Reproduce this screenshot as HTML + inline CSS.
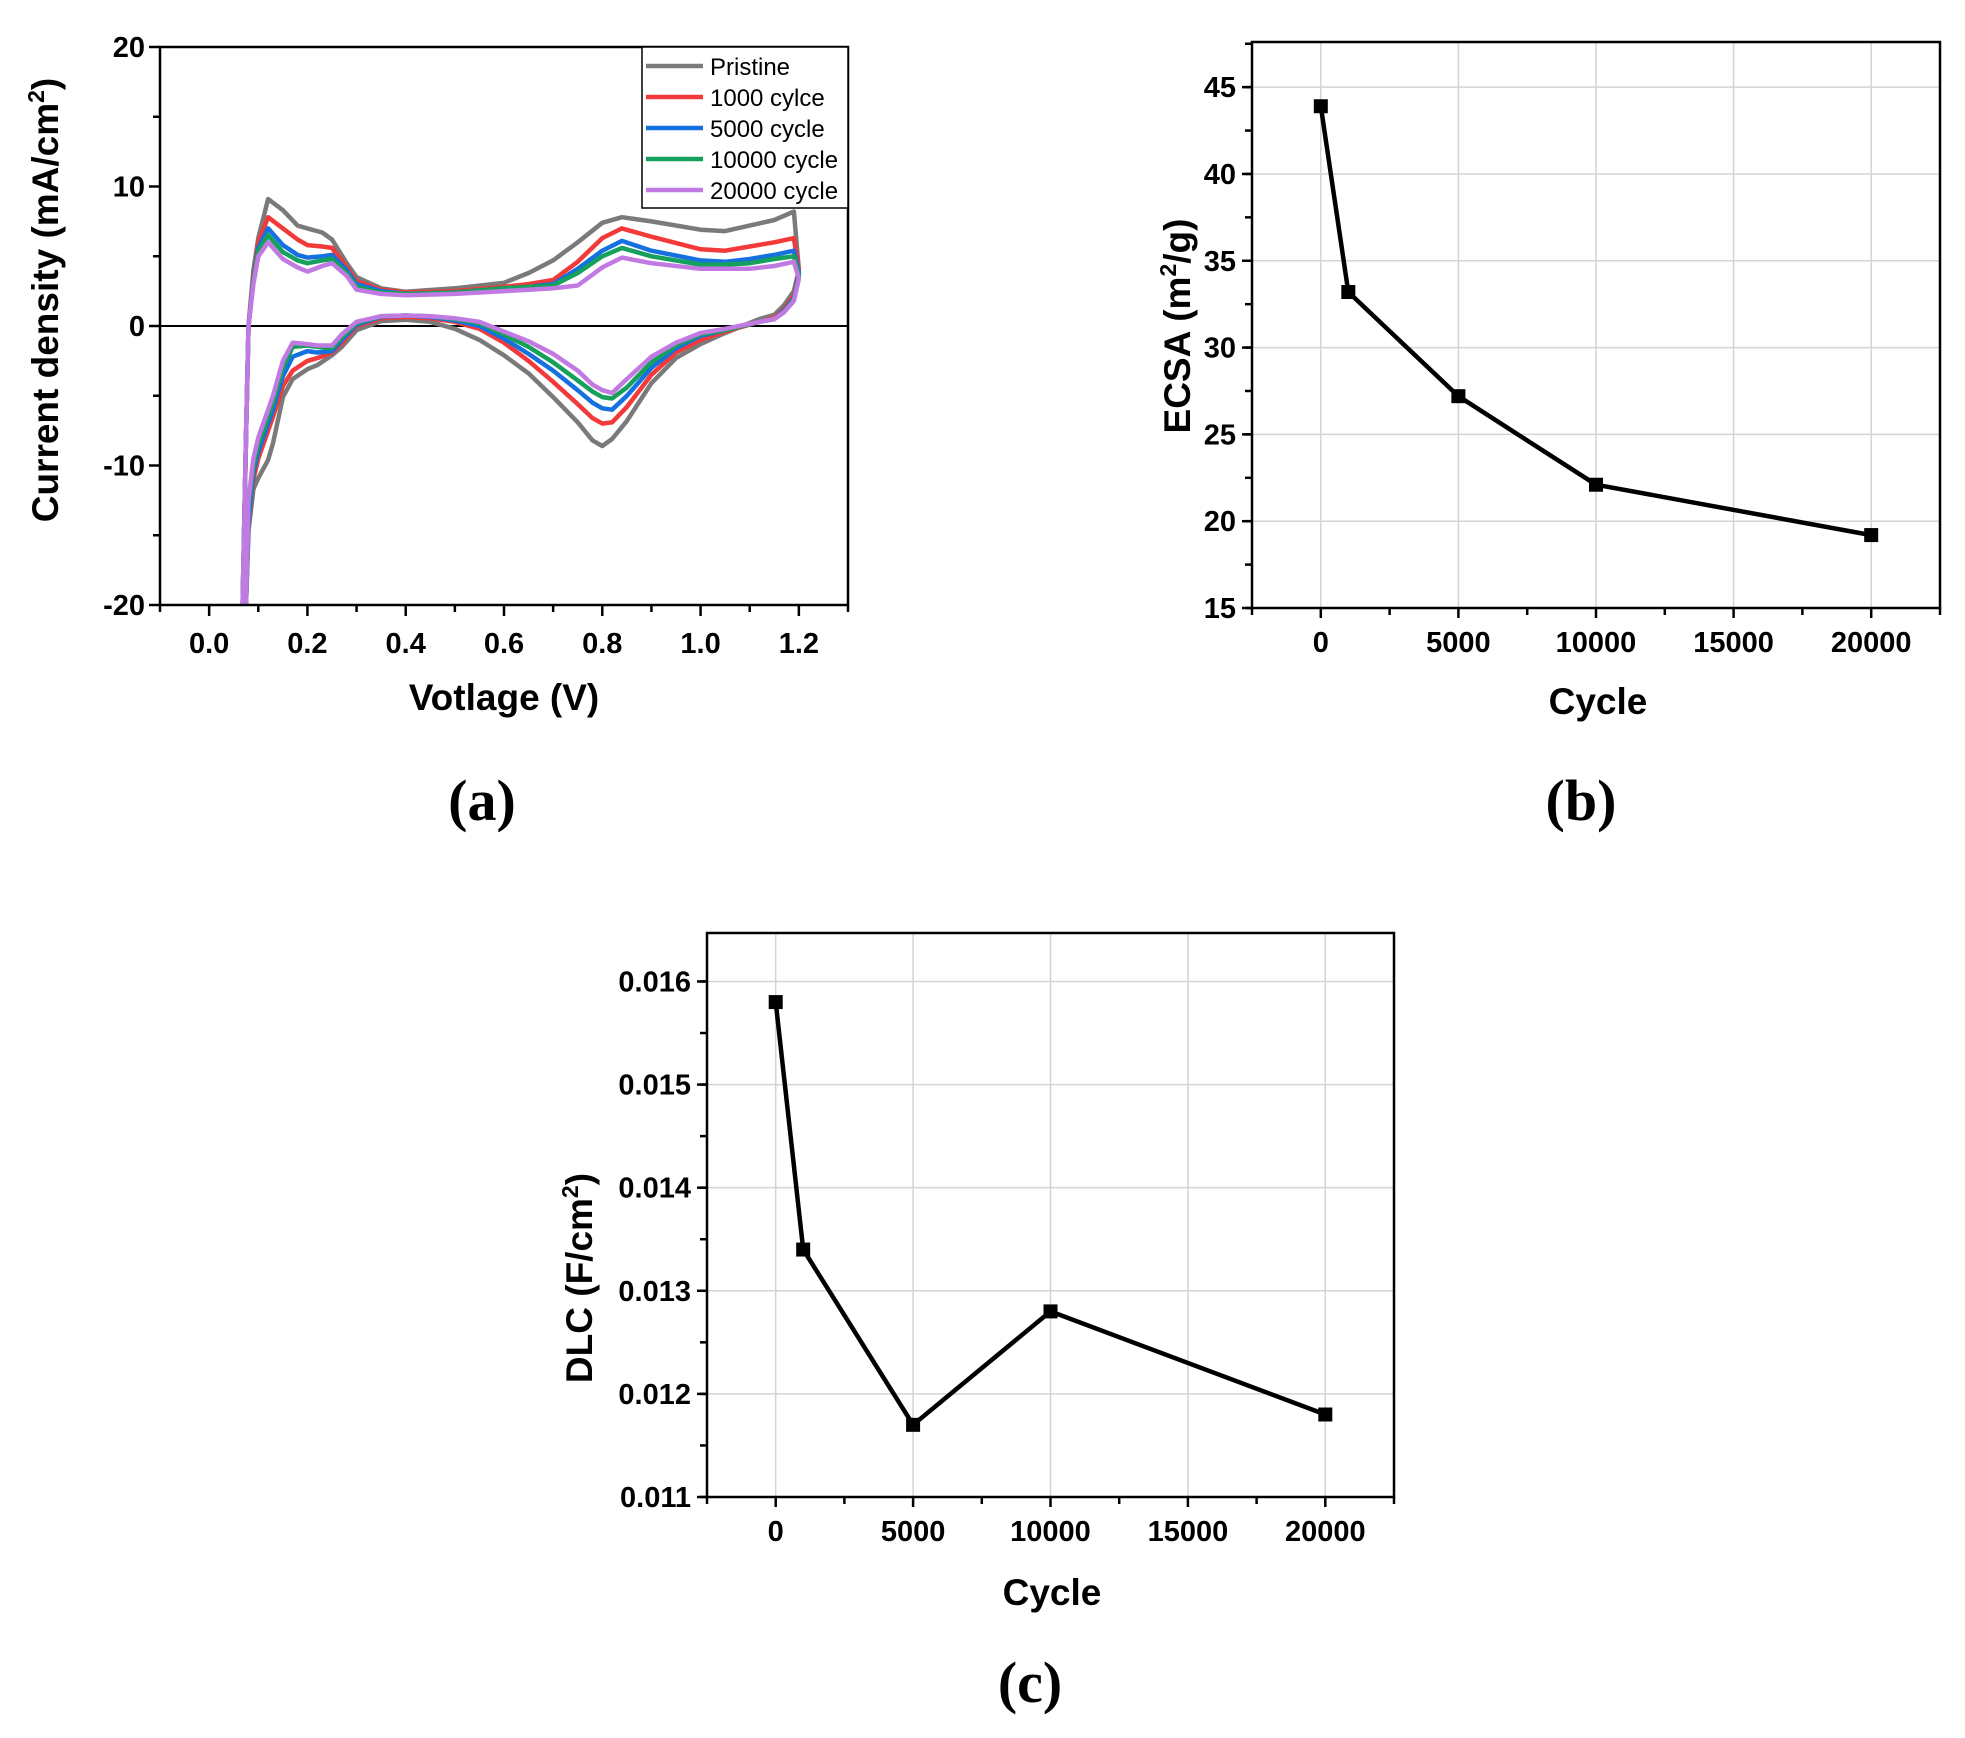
<!DOCTYPE html>
<html><head><meta charset="utf-8"><style>
html,body{margin:0;padding:0;background:#fff;}
svg{display:block;}
text{font-family:"Liberation Sans",Arial,sans-serif;}
.tk{font-size:29px;font-weight:bold;fill:#000;}
.tt{font-size:37px;font-weight:bold;fill:#000;}
.lg{font-size:24px;fill:#000;}
.pl{font-family:"Liberation Serif",serif;font-size:58px;font-weight:bold;}
</style></head><body>
<svg id="fig" width="1965" height="1738" viewBox="0 0 1965 1738" xmlns="http://www.w3.org/2000/svg">
<defs>
<clipPath id="clipA"><rect x="160" y="47" width="688" height="558"/></clipPath>
</defs>
<g id="chartA"></g>
<g id="chartB"></g>
<g id="chartC"></g>
<text class="pl" x="482" y="820" text-anchor="middle">(a)</text>
<text class="pl" x="1581" y="820" text-anchor="middle">(b)</text>
<text class="pl" x="1030" y="1702" text-anchor="middle">(c)</text>
</svg>
<script>
// ---- Chart (a) data ----
const upperV = [0.068,0.075,0.08,0.09,0.1,0.12,0.15,0.18,0.2,0.23,0.25,0.28,0.3,0.35,0.4,0.5,0.6,0.65,0.7,0.75,0.8,0.84,0.9,1.0,1.05,1.1,1.15,1.19,1.2];
const lowerV = [1.2,1.19,1.17,1.15,1.12,1.05,1.0,0.95,0.9,0.85,0.82,0.8,0.78,0.75,0.7,0.65,0.6,0.55,0.5,0.45,0.4,0.35,0.3,0.27,0.25,0.22,0.2,0.17,0.15,0.13,0.12,0.1,0.09,0.08,0.075];
const seriesNames = ["Pristine","1000 cylce","5000 cycle","10000 cycle","20000 cycle"];
const pristineUp = [-20,-8,0,4,6.3,9.1,8.3,7.2,7.0,6.7,6.2,4.5,3.5,2.7,2.45,2.7,3.1,3.8,4.7,6.0,7.4,7.8,7.5,6.9,6.8,7.2,7.6,8.2,4.0];
const c1000Up = [-20,-8,0,3.5,6.0,7.8,7.0,6.2,5.8,5.7,5.6,4.2,3.2,2.6,2.4,2.5,2.8,3.0,3.3,4.6,6.3,7.0,6.4,5.5,5.4,5.7,6.0,6.3,4.0];
const c5000Up = [-20,-8,0,3.3,5.6,7.0,5.8,5.1,4.9,5.0,5.1,4.0,3.0,2.5,2.3,2.4,2.7,2.8,3.0,4.1,5.4,6.1,5.4,4.7,4.6,4.8,5.1,5.4,3.8];
const c10000Up = [-20,-8,0,3.2,5.4,6.5,5.3,4.7,4.5,4.7,4.8,3.8,2.8,2.4,2.3,2.4,2.7,2.8,2.9,3.8,5.0,5.6,5.0,4.4,4.4,4.5,4.8,5.0,3.6];
const c20000Up = [-20,-8,0,3.0,5.0,6.0,4.8,4.2,3.9,4.3,4.5,3.6,2.6,2.3,2.2,2.3,2.5,2.6,2.7,2.9,4.2,4.9,4.5,4.1,4.1,4.1,4.3,4.6,3.4];
const pristineLow = [4.0,2.5,1.5,0.8,0.5,-0.5,-1.3,-2.3,-4.1,-6.8,-8.1,-8.6,-8.2,-6.9,-5.1,-3.4,-2.1,-1.0,-0.2,0.3,0.45,0.35,-0.3,-1.5,-2.1,-2.8,-3.1,-3.8,-5.1,-8.4,-9.6,-10.9,-11.7,-14.7,-20];
const c1000Low = [4.0,2.2,1.2,0.6,0.3,-0.4,-1.0,-1.9,-3.5,-5.8,-6.9,-7.0,-6.6,-5.6,-4.0,-2.5,-1.2,-0.2,0.3,0.55,0.65,0.55,0.0,-1.2,-1.9,-2.3,-2.5,-3.2,-4.3,-6.5,-7.5,-9.5,-11,-14,-20];
const c5000Low = [3.8,2.0,1.1,0.5,0.3,-0.3,-0.7,-1.6,-3.0,-5.0,-6.0,-5.9,-5.5,-4.6,-3.2,-2.0,-0.9,0.0,0.4,0.65,0.75,0.65,0.1,-1.0,-1.8,-1.9,-1.8,-2.2,-3.6,-6.0,-7.0,-9.0,-10.5,-14,-20];
const c10000Low = [3.6,1.9,1.0,0.5,0.3,-0.3,-0.6,-1.4,-2.6,-4.4,-5.2,-5.1,-4.7,-3.9,-2.6,-1.5,-0.6,0.2,0.5,0.7,0.75,0.7,0.2,-0.8,-1.6,-1.5,-1.4,-1.5,-3.0,-5.5,-6.5,-8.5,-10,-13,-20];
const c20000Low = [3.4,1.8,1.0,0.5,0.3,-0.2,-0.5,-1.2,-2.2,-3.8,-4.8,-4.6,-4.2,-3.2,-2.0,-1.1,-0.4,0.3,0.55,0.7,0.75,0.7,0.3,-0.6,-1.4,-1.4,-1.3,-1.2,-2.5,-5.0,-6.0,-8.0,-9.5,-12.5,-20];
const aXTicks = ["0.0","0.2","0.4","0.6","0.8","1.0","1.2"];
const aYTicks = ["-20","-10","0","10","20"];
// ---- Chart (b) data ----
const cycles = [0,1000,5000,10000,20000];
const ecsaValues = [43.9,33.2,27.2,22.1,19.2];
const bYTicks = ["15","20","25","30","35","40","45"];
const cycleTicks = ["0","5000","10000","15000","20000"];
// ---- Chart (c) data ----
const dlcValues = [0.0158,0.0134,0.0117,0.0128,0.0118];
const cYTicks = ["0.011","0.012","0.013","0.014","0.015","0.016"];

const NS="http://www.w3.org/2000/svg";
function mk(parent,tag,attrs,txt){const e=document.createElementNS(NS,tag);for(const k in attrs)e.setAttribute(k,attrs[k]);if(txt!==undefined)e.textContent=txt;parent.appendChild(e);return e;}
function lin(d0,d1,p0,p1){return v=>p0+(v-d0)*(p1-p0)/(d1-d0);}

// ===== Chart A =====
(function(){
const g=document.getElementById('chartA');
const L=160,R=848,T=47,B=605;
const X=lin(-0.1,1.3,L,R), Y=lin(-20,20,B,T);
mk(g,'line',{x1:L,y1:Y(0),x2:R,y2:Y(0),stroke:'#000','stroke-width':2});
const colors=['#7a7a7a','#f23a3a','#1570e0','#15a05c','#c07ae2'];
const ups=[pristineUp,c1000Up,c5000Up,c10000Up,c20000Up];
const lows=[pristineLow,c1000Low,c5000Low,c10000Low,c20000Low];
const cg=mk(g,'g',{'clip-path':'url(#clipA)'});
for(let s=0;s<5;s++){
  const pts=[];
  upperV.forEach((v,i)=>pts.push(X(v).toFixed(1)+','+Y(ups[s][i]).toFixed(1)));
  lowerV.forEach((v,i)=>pts.push(X(v).toFixed(1)+','+Y(lows[s][i]).toFixed(1)));
  const p=mk(cg,'polyline',{points:pts.join(' '),fill:'none',stroke:colors[s],'stroke-width':4.5,'stroke-linejoin':'round','stroke-linecap':'round'});
  
  
}
mk(g,'rect',{x:L,y:T,width:R-L,height:B-T,fill:'none',stroke:'#000','stroke-width':2.5});
for(let i=0;i<=14;i++){const v=-0.1+i*0.1;const x=X(v);mk(g,'line',{x1:x,y1:B,x2:x,y2:B+(Math.abs(Math.round(v*10))%2===0?11:7),stroke:'#000','stroke-width':2.5});}
aXTicks.forEach(t=>{const e=mk(g,'text',{x:X(parseFloat(t)),y:B+48,class:'tk','text-anchor':'middle'},t);});
for(let v=-20;v<=20;v+=5){mk(g,'line',{x1:L,y1:Y(v),x2:L-(v%10===0?11:7),y2:Y(v),stroke:'#000','stroke-width':2.5});}
aYTicks.forEach(t=>{const e=mk(g,'text',{x:L-15,y:Y(parseFloat(t))+10,class:'tk','text-anchor':'end'},t);});
const xt=mk(g,'text',{x:504,y:710,class:'tt','text-anchor':'middle'},'Votlage (V)');

const yt=mk(g,'text',{x:0,y:0,class:'tt','text-anchor':'middle',transform:'translate(58,300) rotate(-90)'});

yt.innerHTML='Current density (mA/cm<tspan dy="-14" font-size="23">2</tspan><tspan dy="14">)</tspan>';
// legend
const lg=mk(g,'g',{});

mk(lg,'rect',{x:642,y:47,width:206,height:161,fill:'#fff',stroke:'#000','stroke-width':1.5});
seriesNames.forEach((n,i)=>{const y=66+i*31;
 const e=mk(lg,'g',{});
 mk(e,'line',{x1:646,y1:y,x2:703,y2:y,stroke:colors[i],'stroke-width':4.5});
 mk(e,'text',{x:710,y:y+9,class:'lg'},n);});
})();

function drawCycleChart(gid,L,R,T,B,ymin,ymax,vals,yTicks,minorStep,yTitleHtml,yTitlePos,xTitlePos){
const g=document.getElementById(gid);
const X=lin(-2500,22500,L,R), Y=lin(ymin,ymax,B,T);
cycleTicks.forEach(t=>{const x=X(+t);mk(g,'line',{x1:x,y1:T,x2:x,y2:B,stroke:'#d4d4d4','stroke-width':1.5});});
yTicks.forEach(t=>{const y=Y(+t);mk(g,'line',{x1:L,y1:y,x2:R,y2:y,stroke:'#d4d4d4','stroke-width':1.5});});
mk(g,'rect',{x:L,y:T,width:R-L,height:B-T,fill:'none',stroke:'#000','stroke-width':2.5});
for(let v=-2500;v<=22500;v+=2500){const x=X(v);mk(g,'line',{x1:x,y1:B,x2:x,y2:B+(v%5000===0?10:7),stroke:'#000','stroke-width':2.5});}
cycleTicks.forEach(t=>{const e=mk(g,'text',{x:X(+t),y:B+44,class:'tk','text-anchor':'middle'},t);});
for(let v=ymin;v<=ymax+1e-9;v+=minorStep){const y=Y(v);mk(g,'line',{x1:L,y1:y,x2:L-7,y2:y,stroke:'#000','stroke-width':2.5});}
yTicks.forEach(t=>{const y=Y(+t);mk(g,'line',{x1:L,y1:y,x2:L-10,y2:y,stroke:'#000','stroke-width':2.5});
 const e=mk(g,'text',{x:L-16,y:y+10,class:'tk','text-anchor':'end'},t);});
const pts=cycles.map((c,i)=>X(c).toFixed(1)+','+Y(vals[i]).toFixed(1)).join(' ');
const ln=mk(g,'polyline',{points:pts,fill:'none',stroke:'#000','stroke-width':4.5,'stroke-linejoin':'round'});

cycles.forEach((c,i)=>{const m=mk(g,'rect',{x:X(c)-7,y:Y(vals[i])-7,width:14,height:14,fill:'#000'});
 });
const xt=mk(g,'text',{x:xTitlePos[0],y:xTitlePos[1],class:'tt','text-anchor':'middle'},'Cycle');

const yt=mk(g,'text',{x:0,y:0,class:'tt','text-anchor':'middle',transform:'translate('+yTitlePos[0]+','+yTitlePos[1]+') rotate(-90)'});

yt.innerHTML=yTitleHtml;
}
drawCycleChart('chartB',1252,1940,42,608,15,47.6,ecsaValues,bYTicks,2.5,
 'ECSA (m<tspan dy="-14" font-size="23">2</tspan><tspan dy="14">/g)</tspan>',[1190,326],[1598,714]);
drawCycleChart('chartC',707,1394,933,1497,0.011,0.01647,dlcValues,cYTicks,0.0005,
 'DLC (F/cm<tspan dy="-14" font-size="23">2</tspan><tspan dy="14">)</tspan>',[592,1278],[1052,1605]);
</script>
</body></html>
